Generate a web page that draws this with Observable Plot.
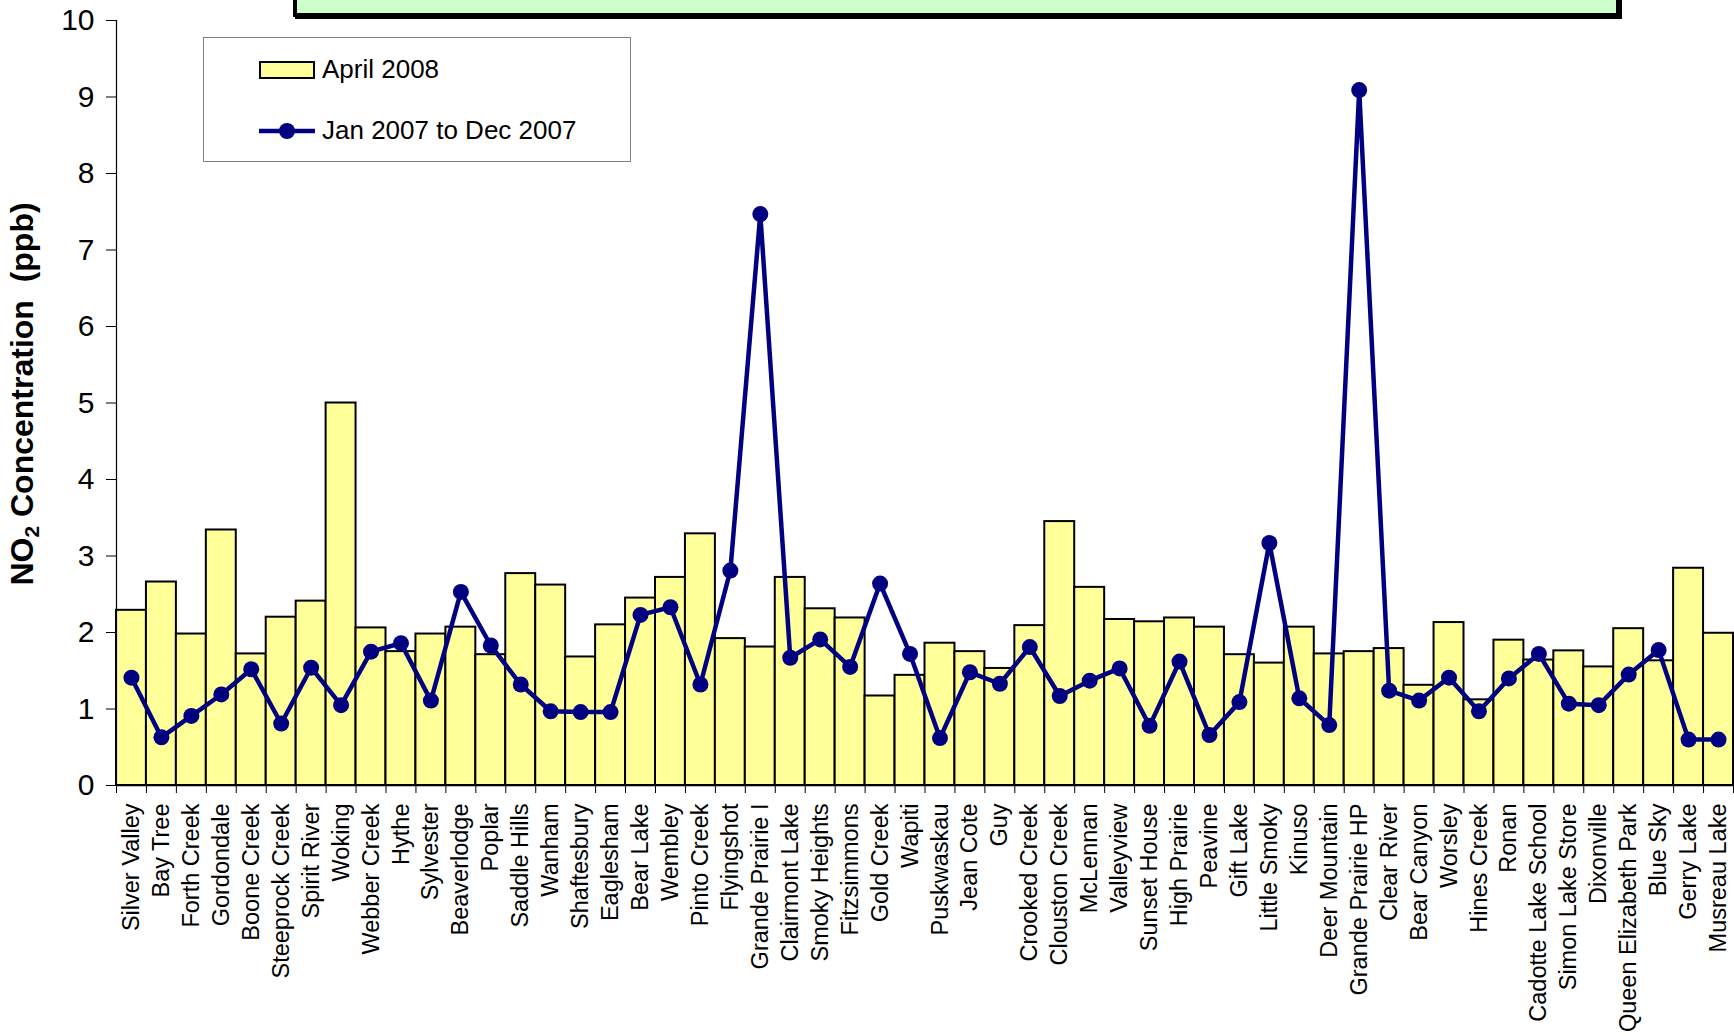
<!DOCTYPE html>
<html>
<head>
<meta charset="utf-8">
<script src="https://cdn.jsdelivr.net/npm/d3@7"></script>
<script src="https://cdn.jsdelivr.net/npm/@observablehq/plot@0.6"></script>
<style>
  html, body { margin: 0; padding: 0; background: #fff; overflow: hidden; }
  #wrap { position: relative; width: 1734px; height: 1036px; font-family: "Liberation Sans", Arial, sans-serif; }
  #titlebox { position: absolute; left: 293px; top: -40px; width: 1319px; height: 49px; background: #CCFFCC; border: 4px solid #000; box-shadow: 2px 2px 0 #000; }
  #legend { position: absolute; left: 203px; top: 37px; width: 426px; height: 123px; border: 1px solid #808080; background: #fff; }
  #legend .item { position: absolute; left: 55px; display: flex; align-items: center; font-size: 26px; color: #000; }
  #legend svg { margin-right: 7px; }
</style>
</head>
<body>
<div id="wrap">
  <div id="chart"></div>
  <div id="titlebox"></div>
  <div id="legend">
    <div class="item" style="top:16px">
      <svg width="56" height="18"><rect x="1" y="1" width="54" height="16" fill="#FFFF99" stroke="#000" stroke-width="2"/></svg>
      <span>April 2008</span>
    </div>
    <div class="item" style="top:77px">
      <svg width="56" height="18"><line x1="0" y1="9" x2="56" y2="9" stroke="#000080" stroke-width="4.5"/><circle cx="28" cy="9" r="8" fill="#000080"/></svg>
      <span>Jan 2007 to Dec 2007</span>
    </div>
  </div>
</div>
<script>
const categories = ["Silver Valley","Bay Tree","Forth Creek","Gordondale","Boone Creek","Steeprock Creek","Spirit River","Woking","Webber Creek","Hythe","Sylvester","Beaverlodge","Poplar","Saddle Hills","Wanham","Shaftesbury","Eaglesham","Bear Lake","Wembley","Pinto Creek","Flyingshot","Grande Prairie I","Clairmont Lake","Smoky Heights","Fitzsimmons","Gold Creek","Wapiti","Puskwaskau","Jean Cote","Guy","Crooked Creek","Clouston Creek","McLennan","Valleyview","Sunset House","High Prairie","Peavine","Gift Lake","Little Smoky","Kinuso","Deer Mountain","Grande Prairie HP","Clear River","Bear Canyon","Worsley","Hines Creek","Ronan","Cadotte Lake School","Simon Lake Store","Dixonville","Queen Elizabeth Park","Blue Sky","Gerry Lake","Musreau Lake"];

const april2008 = [2.29,2.66,1.98,3.34,1.72,2.20,2.41,5.00,2.06,1.75,1.98,2.07,1.71,2.77,2.62,1.68,2.10,2.45,2.72,3.29,1.92,1.81,2.72,2.31,2.19,1.17,1.44,1.86,1.75,1.53,2.09,3.45,2.59,2.17,2.14,2.19,2.07,1.71,1.60,2.07,1.72,1.75,1.79,1.31,2.13,1.12,1.90,1.64,1.76,1.55,2.05,1.63,2.84,1.99];

const year2007 = [1.41,0.63,0.91,1.19,1.52,0.81,1.54,1.05,1.75,1.86,1.11,2.53,1.83,1.32,0.97,0.96,0.96,2.23,2.33,1.32,2.81,7.47,1.67,1.91,1.55,2.64,1.72,0.62,1.48,1.33,1.81,1.17,1.37,1.53,0.78,1.62,0.66,1.09,3.17,1.14,0.79,9.09,1.24,1.11,1.41,0.97,1.40,1.72,1.07,1.05,1.45,1.77,0.60,0.60];

const yTicks = [0,1,2,3,4,5,6,7,8,9,10];
const yLabel = "NO2 Concentration  (ppb)";

const rows = categories.map((name, i) => ({name, i, april: april2008[i], year: year2007[i]}));
const n = categories.length;

const chart = Plot.plot({
  width: 1734,
  height: 1036,
  marginLeft: 116,
  marginRight: 1,
  marginTop: 20,
  marginBottom: 251,
  style: {fontFamily: "'Liberation Sans', Arial, sans-serif", background: "#fff", color: "#000"},
  x: {type: "linear", domain: [0, n], axis: null},
  y: {domain: [0, 10], axis: null},
  marks: [
    Plot.rectY(rows, {x1: d => d.i, x2: d => d.i + 1, y1: 0, y2: "april", fill: "#FFFF99", stroke: "#000", strokeWidth: 2}),
    Plot.ruleY([0], {stroke: "#000", strokeWidth: 1.5}),
    Plot.ruleX([0], {stroke: "#000", strokeWidth: 1.2}),
    Plot.axisY({ticks: yTicks, tickSize: 10, tickPadding: 12, fontSize: 30, stroke: "#000", tickFormat: d => String(d),
      label: yLabel, labelAnchor: "center", labelArrow: "none", labelOffset: 106}),
    Plot.axisX({ticks: d3.range(0, n + 1), tickSize: 8, tickFormat: () => "", label: null, stroke: "#000"}),
    Plot.axisX({ticks: rows.map(d => d.i + 0.5), tickSize: 0, tickPadding: 18, tickRotate: -90, fontSize: 23.5,
      tickFormat: v => categories[Math.floor(v)], label: null}),
    Plot.line(rows, {x: d => d.i + 0.5, y: "year", stroke: "#000080", strokeWidth: 4.5}),
    Plot.dot(rows, {x: d => d.i + 0.5, y: "year", r: 8, fill: "#000080", stroke: "none"})
  ]
});
document.getElementById("chart").appendChild(chart);

// bold y-axis label with subscript
chart.querySelectorAll("text").forEach(t => {
  if (t.textContent === yLabel) {
    t.setAttribute("font-weight", "bold");
    t.setAttribute("font-size", "32");
    t.setAttribute("dx", "9");
    t.setAttribute("xml:space", "preserve");
    t.style.whiteSpace = "pre";
    t.innerHTML = 'NO<tspan font-size="21" dy="6">2</tspan><tspan dy="-6"> Concentration  (ppb)</tspan>';
  }
});
</script>
</body>
</html>
